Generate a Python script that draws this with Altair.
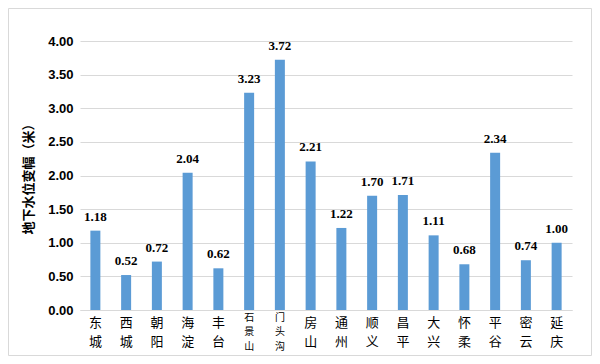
import altair as alt
import pandas as pd

districts = ["东城", "西城", "朝阳", "海淀", "丰台", "石景山", "门头沟", "房山",
             "通州", "顺义", "昌平", "大兴", "怀柔", "平谷", "密云", "延庆"]
values = [1.18, 0.52, 0.72, 2.04, 0.62, 3.23, 3.72, 2.21,
          1.22, 1.70, 1.71, 1.11, 0.68, 2.34, 0.74, 1.00]
y_ticks = [0, 0.5, 1.0, 1.5, 2.0, 2.5, 3.0, 3.5, 4.0]
y_title = "地下水位变幅（米）"

df = pd.DataFrame({"district": districts, "value": values})

W, H = 492, 269
CJK = "Noto Sans CJK SC"

xscale = alt.Scale(domain=districts, paddingInner=0, paddingOuter=0)
yscale = alt.Scale(domain=[0, 4], nice=False)

yaxis = alt.Axis(values=y_ticks, format=".2f", title=y_title, labelOverlap=False,
                 titleFont=CJK, titleFontSize=13, titleFontWeight="bold",
                 titleColor="#000000", titleAngle=-90, titleX=-52, titleY=H / 2,
                 titleAlign="center", titleBaseline="middle",
                 labelFont="Liberation Sans", labelFontSize=13, labelFontWeight="bold",
                 labelColor="#000000", labelPadding=7, ticks=False, domain=False,
                 grid=True, gridColor="#d9d9d9")

xaxis2 = alt.Axis(title=None, orient="bottom", labelOverlap=False,
                  labelExpr="length(datum.label) == 2 ? split(datum.label, '') : ''",
                  labelFont=CJK, labelFontSize=13, labelColor="#000000",
                  labelLineHeight=19, labelPadding=6, labelAngle=0,
                  ticks=False, domainColor="#d9d9d9", grid=False)
xaxis3 = alt.Axis(title=None, orient="bottom", labelOverlap=False,
                  labelExpr="length(datum.label) == 3 ? split(datum.label, '') : ''",
                  labelFont=CJK, labelFontSize=10, labelColor="#000000",
                  labelLineHeight=14.5, labelPadding=2, labelAngle=0,
                  ticks=False, domain=False, grid=False)

bars = alt.Chart(df).mark_bar(size=10, color="#5B9BD5").encode(
    x=alt.X("district:N", sort=districts, scale=xscale, axis=xaxis2),
    y=alt.Y("value:Q", scale=yscale, axis=yaxis),
)

labels = alt.Chart(df).mark_text(
    baseline="bottom", dy=-7, font="Liberation Serif", fontSize=13,
    fontWeight="bold", color="#000000"
).encode(
    x=alt.X("district:N", sort=districts, scale=xscale, axis=xaxis3),
    y=alt.Y("value:Q", scale=yscale, axis=yaxis),
    text=alt.Text("value:Q", format=".2f"),
)

border = alt.Chart(pd.DataFrame({"b": [0]})).mark_rect(
    fill=None, stroke="#d9d9d9", strokeWidth=1
).encode(
    x=alt.value(-71.5), x2=alt.value(W + 19.5),
    y=alt.value(-32.5), y2=alt.value(H + 45.5),
)

chart = alt.layer(bars, labels, border).resolve_axis(x="independent").properties(
    width=W, height=H,
    padding={"left": 72, "top": 33, "right": 20, "bottom": 46},
    autosize=alt.AutoSizeParams(type="none"),
).configure_view(stroke=None)

chart.save("out.html", embed_options={"renderer": "svg", "actions": False})
